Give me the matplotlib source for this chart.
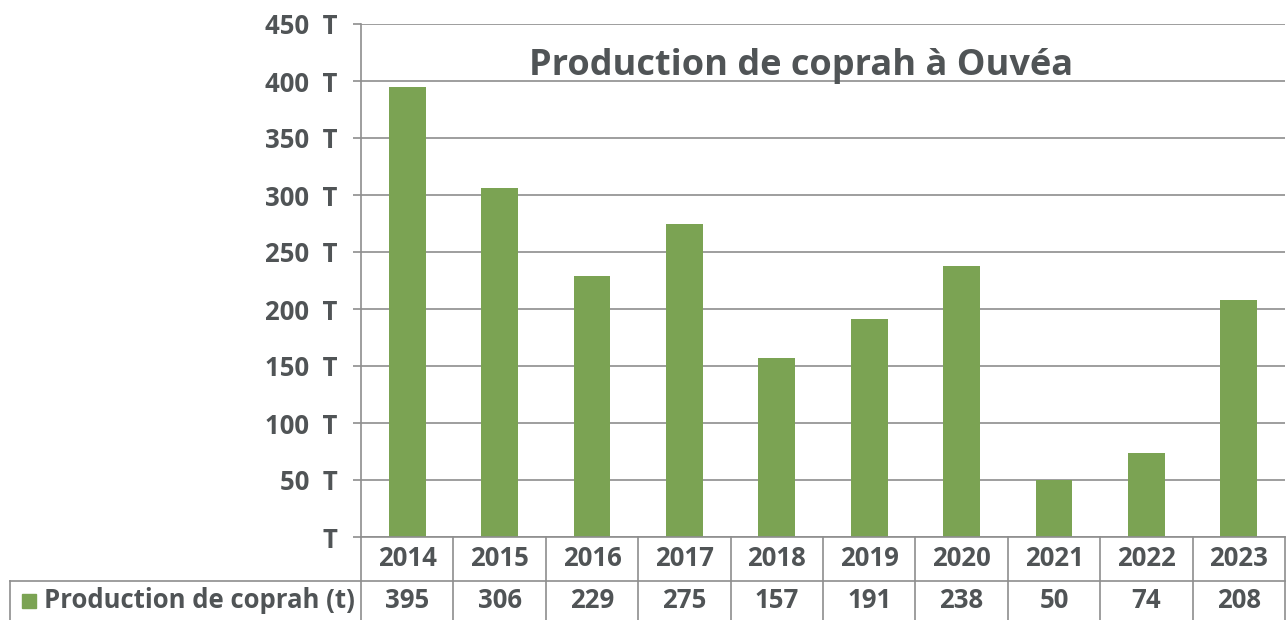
import matplotlib.pyplot as plt
from matplotlib.patches import Rectangle
import numpy as np

# Data
years = ['2014', '2015', '2016', '2017', '2018', '2019', '2020', '2021', '2022', '2023']
production = [395, 306, 229, 275, 157, 191, 238, 50, 74, 208]
series_label = 'Production de coprah (t)'
title = 'Production de coprah à Ouvéa'
yticks = [0, 50, 100, 150, 200, 250, 300, 350, 400, 450]

# Style
bar_color = '#7BA353'
grid_color = '#8E8E8E'
text_color = '#505456'
plt.rcParams['font.family'] = ['Open Sans', 'DejaVu Sans']
plt.rcParams['font.weight'] = 'bold'
fs = 18.5

W, H = 1287, 620
fig = plt.figure(figsize=(W / 100, H / 100), dpi=100)

# pixel layout of the plot area
left_px, right_px = 361, 1285
top_px, bottom_px = 24, 537
ax = fig.add_axes([left_px / W, 1 - bottom_px / H,
                   (right_px - left_px) / W, (bottom_px - top_px) / H])

x = np.arange(len(years))
ax.bar(x, production, width=0.4, color=bar_color, zorder=3)
ax.set_xlim(-0.5, len(years) - 0.5)
ax.set_ylim(0, 450)
ax.set_yticks(yticks)
ax.set_yticklabels([f'{v}  T' if v else 'T' for v in yticks],
                   fontsize=fs, color=text_color, fontweight='bold')
ax.tick_params(axis='y', length=6, color=grid_color, width=1.2, pad=11)
ax.set_xticks([])
ax.grid(axis='y', color=grid_color, linewidth=1.2, zorder=0)
for side in ['top', 'right', 'bottom']:
    ax.spines[side].set_visible(False)
ax.spines['left'].set_color(grid_color)
ax.spines['left'].set_linewidth(1.2)

ax.text(0.476, 0.918, title, transform=ax.transAxes, ha='center', va='center',
        fontsize=26, color=text_color, fontweight='bold')

# Data table below the plot, sharing the x scale
cat_px = (right_px - left_px) / len(years)
tleft_px = 10
x_min = -0.5 - (left_px - tleft_px) / cat_px
tab = fig.add_axes([tleft_px / W, 0, (right_px - tleft_px) / W, (H - bottom_px) / H])
tab.set_xlim(x_min, len(years) - 0.5)
tab.set_ylim(0, H - bottom_px)
tab.invert_yaxis()
tab.axis('off')

row_split = 581 - bottom_px
lc = dict(color=grid_color, linewidth=1.2, clip_on=False)
tab.plot([-0.5, len(years) - 0.5], [0, 0], **lc)
tab.plot([x_min, len(years) - 0.5], [row_split, row_split], **lc)
tab.plot([x_min, x_min], [row_split, H - bottom_px], **lc)
for b in np.arange(len(years) + 1) - 0.5:
    tab.plot([b, b], [0, H - bottom_px], **lc)

for i, (yr, v) in enumerate(zip(years, production)):
    tab.text(i, 22, yr, ha='center', va='center', fontsize=fs,
             color=text_color, fontweight='bold')
    tab.text(i, 64, str(v), ha='center', va='center', fontsize=fs,
             color=text_color, fontweight='bold')

# legend key in the left cell
key_w = 14 / cat_px
tab.add_artist(Rectangle((x_min + 12 / cat_px, 57), key_w, 14, color=bar_color))
tab.text(x_min + 34 / cat_px, 64, series_label, ha='left', va='center',
         fontsize=fs, color=text_color, fontweight='bold')

fig.savefig('out.png', dpi=100)
